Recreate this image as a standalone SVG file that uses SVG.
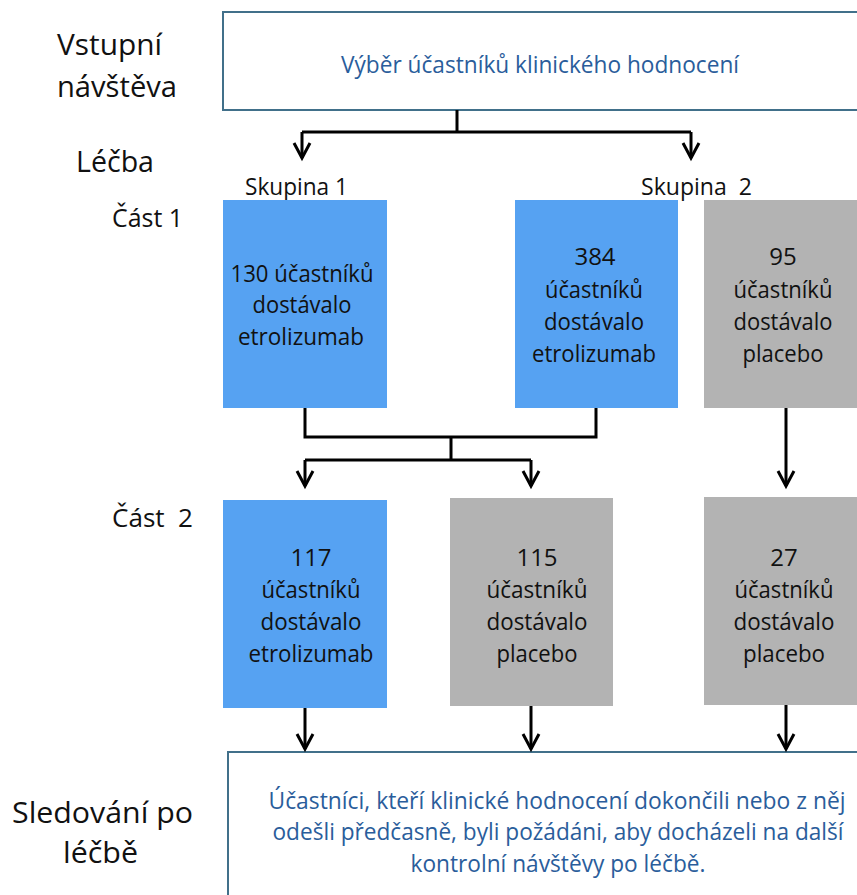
<svg xmlns="http://www.w3.org/2000/svg" width="857" height="895" viewBox="0 0 857 895">
<style>
text{font-family:"Open Sans","Noto Sans","DejaVu Sans",sans-serif;}
.lbl{font-size:30px;fill:#111;}
.sm{font-size:24px;fill:#111;}
.bt{font-size:24px;fill:#111;text-anchor:middle;}
.bl{font-size:23px;fill:#2a5d9b;text-anchor:middle;}
.frame{fill:#fff;stroke:#41708a;stroke-width:2;}
.blue{fill:#56a2f2;}
.gray{fill:#b3b3b3;}
.ln{fill:none;stroke:#000;stroke-width:3;}
.ar{fill:none;stroke:#000;stroke-width:3;marker-end:url(#ah);}
</style>
<defs>
<marker id="ah" markerUnits="userSpaceOnUse" viewBox="-18 -11 22 22" markerWidth="22" markerHeight="22" refX="0" refY="0" orient="auto">
<path d="M-15,-8 L0,0 L-15,8" fill="none" stroke="#000" stroke-width="3"/>
</marker>
</defs>
<rect width="857" height="895" fill="#fff"/>

<g id="labels">
<text class="lbl" x="57" y="55" textLength="105" lengthAdjust="spacingAndGlyphs">Vstupní</text>
<text class="lbl" x="57" y="97" textLength="120" lengthAdjust="spacingAndGlyphs">návštěva</text>
<text class="lbl" x="76" y="172" textLength="78" lengthAdjust="spacingAndGlyphs">Léčba</text>
<text class="sm" x="112" y="227" textLength="71" lengthAdjust="spacingAndGlyphs" style="font-size:25px">Část 1</text>
<text class="sm" x="112" y="527" textLength="81" lengthAdjust="spacingAndGlyphs" xml:space="preserve" style="font-size:25px">Část  2</text>
<text class="sm" x="245" y="195" textLength="103" lengthAdjust="spacingAndGlyphs">Skupina 1</text>
<text class="sm" x="641" y="195" textLength="111" lengthAdjust="spacingAndGlyphs" xml:space="preserve">Skupina  2</text>
<text class="lbl" x="12" y="823" textLength="181" lengthAdjust="spacingAndGlyphs">Sledování po</text>
<text class="lbl" x="63" y="863" textLength="75" lengthAdjust="spacingAndGlyphs">léčbě</text>
</g>

<g id="screening">
<rect class="frame" x="223" y="12" width="660" height="98"/>
<text class="bl" x="540" y="73" textLength="398" lengthAdjust="spacingAndGlyphs" style="font-size:24px">Výběr účastníků klinického hodnocení</text>
</g>

<g id="g1p1">
<rect class="blue" x="223" y="200" width="164" height="208"/>
<text class="bt" x="302" y="282" textLength="143" lengthAdjust="spacingAndGlyphs">130 účastníků</text>
<text class="bt" x="302" y="313" textLength="99" lengthAdjust="spacingAndGlyphs">dostávalo</text>
<text class="bt" x="301" y="345" textLength="126" lengthAdjust="spacingAndGlyphs">etrolizumab</text>
</g>

<g id="g2p1eto">
<rect class="blue" x="515" y="200" width="163" height="208"/>
<text class="bt" x="595" y="265">384</text>
<text class="bt" x="594" y="298" textLength="98" lengthAdjust="spacingAndGlyphs">účastníků</text>
<text class="bt" x="594" y="330" textLength="100" lengthAdjust="spacingAndGlyphs">dostávalo</text>
<text class="bt" x="594" y="362" textLength="124" lengthAdjust="spacingAndGlyphs">etrolizumab</text>
</g>

<g id="g2p1pla">
<rect class="gray" x="704" y="200" width="160" height="208"/>
<text class="bt" x="783" y="265">95</text>
<text class="bt" x="783" y="298" textLength="99" lengthAdjust="spacingAndGlyphs">účastníků</text>
<text class="bt" x="783" y="330" textLength="99" lengthAdjust="spacingAndGlyphs">dostávalo</text>
<text class="bt" x="783" y="362" textLength="81" lengthAdjust="spacingAndGlyphs">placebo</text>
</g>

<g id="p2eto">
<rect class="blue" x="223" y="500" width="164" height="208"/>
<text class="bt" x="311" y="566">117</text>
<text class="bt" x="311" y="598" textLength="99" lengthAdjust="spacingAndGlyphs">účastníků</text>
<text class="bt" x="311" y="630" textLength="101" lengthAdjust="spacingAndGlyphs">dostávalo</text>
<text class="bt" x="311" y="662" textLength="125" lengthAdjust="spacingAndGlyphs">etrolizumab</text>
</g>

<g id="p2pla">
<rect class="gray" x="450" y="498" width="163" height="208"/>
<text class="bt" x="537" y="566">115</text>
<text class="bt" x="537" y="598" textLength="101" lengthAdjust="spacingAndGlyphs">účastníků</text>
<text class="bt" x="537" y="630" textLength="101" lengthAdjust="spacingAndGlyphs">dostávalo</text>
<text class="bt" x="537" y="662" textLength="81" lengthAdjust="spacingAndGlyphs">placebo</text>
</g>

<g id="p2pla2">
<rect class="gray" x="704" y="497" width="160" height="208"/>
<text class="bt" x="784" y="566">27</text>
<text class="bt" x="784" y="598" textLength="99" lengthAdjust="spacingAndGlyphs">účastníků</text>
<text class="bt" x="784" y="630" textLength="101" lengthAdjust="spacingAndGlyphs">dostávalo</text>
<text class="bt" x="784" y="662" textLength="82" lengthAdjust="spacingAndGlyphs">placebo</text>
</g>

<g id="followup">
<rect class="frame" x="228" y="752" width="660" height="200"/>
<text class="bl" x="557" y="809" textLength="577" lengthAdjust="spacingAndGlyphs">Účastníci, kteří klinické hodnocení dokončili nebo z něj</text>
<text class="bl" x="558" y="840" textLength="571" lengthAdjust="spacingAndGlyphs">odešli předčasně, byli požádáni, aby docházeli na další</text>
<text class="bl" x="558" y="872" textLength="295" lengthAdjust="spacingAndGlyphs">kontrolní návštěvy po léčbě.</text>
</g>

<g id="connectors">
<path class="ln" d="M457,110 V132 M302,132 H691"/>
<path class="ar" d="M302,132 V158"/>
<path class="ar" d="M691,132 V158"/>
<path class="ln" d="M305,408 V437 H596 V408 M451,437 V460 M305,460 H531"/>
<path class="ar" d="M305,460 V486"/>
<path class="ar" d="M531,460 V486"/>
<path class="ar" d="M786,408 V486"/>
<path class="ar" d="M305,708 V749"/>
<path class="ar" d="M531,706 V749"/>
<path class="ar" d="M786,705 V749"/>
</g>
</svg>
